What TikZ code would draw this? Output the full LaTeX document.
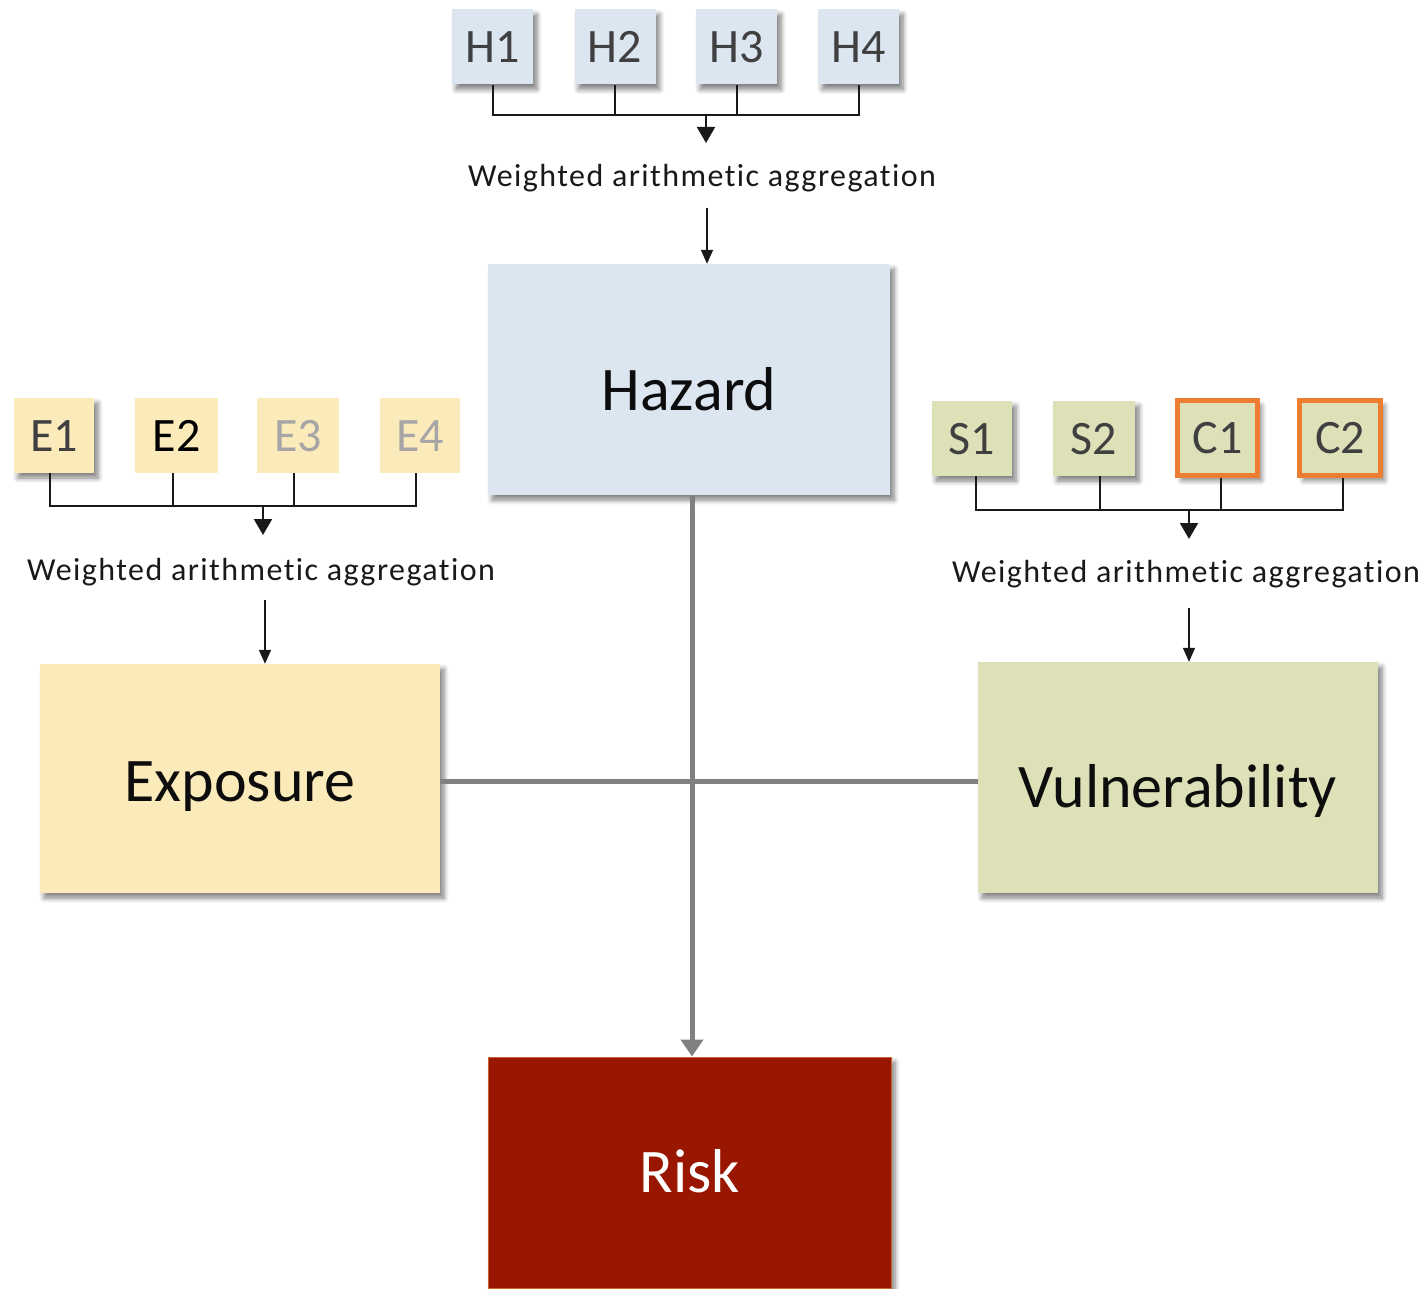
\documentclass[tikz,border=0pt]{standalone}
\usepackage{fontspec}
\setmainfont{Carlito}
\newfontfamily\aggfont[LetterSpace=4.5,Ligatures=NoCommon]{Carlito}
\usetikzlibrary{arrows.meta,shadows.blur,calc}
\definecolor{hazfill}{HTML}{DCE6F0}
\definecolor{expfill}{HTML}{FBEBBB}
\definecolor{vulfill}{HTML}{DEE1B7}
\definecolor{riskfill}{HTML}{991600}
\definecolor{riskedge}{HTML}{C8642A}
\definecolor{orangeb}{HTML}{ED7D31}
\definecolor{txtgray}{HTML}{404040}
\definecolor{lightgray}{HTML}{A6A6A6}
\definecolor{linkgray}{HTML}{808080}
\begin{document}
\begin{tikzpicture}[x=1pt,y=-1pt,
  shad/.style={blur shadow={shadow xshift=4pt,shadow yshift=-5pt,shadow blur steps=6,shadow opacity=50,shadow blur radius=5pt}},
  smallbox/.style={rectangle,minimum width=81pt,minimum height=75pt,inner sep=0pt,
    font=\fontsize{48}{48}\selectfont,text=txtgray,text height=31pt,text depth=0pt},
  bigbox/.style={rectangle,minimum width=402pt,minimum height=231pt,inner sep=0pt,
    font=\fontsize{62}{62}\selectfont,text=black!95,text depth=0pt,shad},
  aggtext/.style={font=\aggfont\fontsize{32}{34}\selectfont,text=black!90,inner sep=0pt},
  bracket/.style={line width=2pt,draw=black!90},
  bigarrow/.style={line width=2pt,draw=black!90,-{Triangle[width=18pt,length=16pt]}},
  thinarrow/.style={line width=1.5pt,draw=black!90,-{Triangle[width=12pt,length=14pt]}},
  link/.style={line width=5pt,draw=linkgray},
  linkarrow/.style={link,-{Triangle[width=22pt,length=17pt]}}
]
\useasboundingbox (0,0) rectangle (1428,1289);

% ---- Hazard group
\node[smallbox,fill=hazfill,shad] (H1) at (492.5,47) {H1};
\node[smallbox,fill=hazfill,shad] (H2) at (615,47) {H2};
\node[smallbox,fill=hazfill,shad] (H3) at (736.5,47) {H3};
\node[smallbox,fill=hazfill,shad] (H4) at (858.5,47) {H4};
\coordinate (hbar) at (706,115);
\draw[bracket] (H1.south) |- (H4.south |- hbar) -- (H4.south);
\draw[bracket] (H2.south) -- (H2.south |- hbar);
\draw[bracket] (H3.south) -- (H3.south |- hbar);
\coordinate (htip) at (706,143);
\draw[bigarrow] (hbar) -- (htip);
\node[aggtext] (hlab) at (702,178) {Weighted arithmetic aggregation};
\node[bigbox,fill=hazfill,text height=61pt] (hazard) at (689,379.5) {Hazard};
\coordinate (hstart) at (707,208);
\draw[thinarrow] (hstart) -- (hstart |- hazard.north);

% ---- Exposure group
\node[smallbox,fill=expfill,shad,minimum width=80pt] (E1) at (54,435.5) {E1};
\node[smallbox,fill=expfill,minimum width=83pt,text=black] (E2) at (176.5,435.5) {E2};
\node[smallbox,fill=expfill,minimum width=82pt,text=lightgray] (E3) at (298,435.5) {E3};
\node[smallbox,fill=expfill,minimum width=80pt,text=lightgray] (E4) at (420,435.5) {E4};
\coordinate (ebar) at (263,506);
\draw[bracket] ([xshift=-4pt]E1.south) |- ([xshift=-4pt]E4.south |- ebar) -- ([xshift=-4pt]E4.south);
\draw[bracket] ([xshift=-3.5pt]E2.south) -- ([xshift=-3.5pt]E2.south |- ebar);
\draw[bracket] ([xshift=-4pt]E3.south) -- ([xshift=-4pt]E3.south |- ebar);
\coordinate (etip) at (263,535);
\draw[bigarrow] (ebar) -- (etip);
\node[aggtext] (elab) at (261,572) {Weighted arithmetic aggregation};
\node[bigbox,fill=expfill,minimum width=400pt,minimum height=229pt,text height=45pt] (exposure) at (240,778.5) {Exposure};
\coordinate (estart) at (265,600);
\draw[thinarrow] (estart) -- (estart |- exposure.north);

% ---- Vulnerability group
\node[smallbox,fill=vulfill,shad,minimum width=80pt] (S1) at (972,438.5) {S1};
\node[smallbox,fill=vulfill,shad,minimum width=82pt] (S2) at (1094,438.5) {S2};
\node[smallbox,fill=vulfill,shad,draw=orangeb,line width=5pt,minimum width=80pt,minimum height=75pt] (C1) at (1217.5,438) {C1};
\node[smallbox,fill=vulfill,shad,draw=orangeb,line width=5pt,minimum width=81pt,minimum height=75pt] (C2) at (1340,438) {C2};
\coordinate (vbar) at (1189,510);
\draw[bracket] ([xshift=4pt]S1.south) |- ([xshift=3pt]C2.south |- vbar) -- ([xshift=3pt]C2.south);
\draw[bracket] ([xshift=6pt]S2.south) -- ([xshift=6pt]S2.south |- vbar);
\draw[bracket] ([xshift=3.5pt]C1.south) -- ([xshift=3.5pt]C1.south |- vbar);
\coordinate (vtip) at (1189,539);
\draw[bigarrow] (vbar) -- (vtip);
\node[aggtext] (vlab) at (1186,574) {Weighted arithmetic aggregation};
\node[bigbox,fill=vulfill,minimum width=400pt,minimum height=231pt,text height=60pt] (vuln) at (1178,777.5) {Vulnerability};
\coordinate (vstart) at (1189,608);
\draw[thinarrow] (vstart) -- (vstart |- vuln.north);

% ---- Risk
\node[bigbox,fill=riskfill,draw=riskedge,line width=1pt,text=white,minimum width=403pt,text height=40pt] (risk) at (689.5,1172.5) {Risk};

% ---- links
\draw[link] ([yshift=-3pt]exposure.east) -- ([yshift=-3pt]vuln.west |- exposure.east);
\draw[linkarrow] ([xshift=3pt]hazard.south) -- ([xshift=3pt]hazard.south |- risk.north);
\end{tikzpicture}
\end{document}
